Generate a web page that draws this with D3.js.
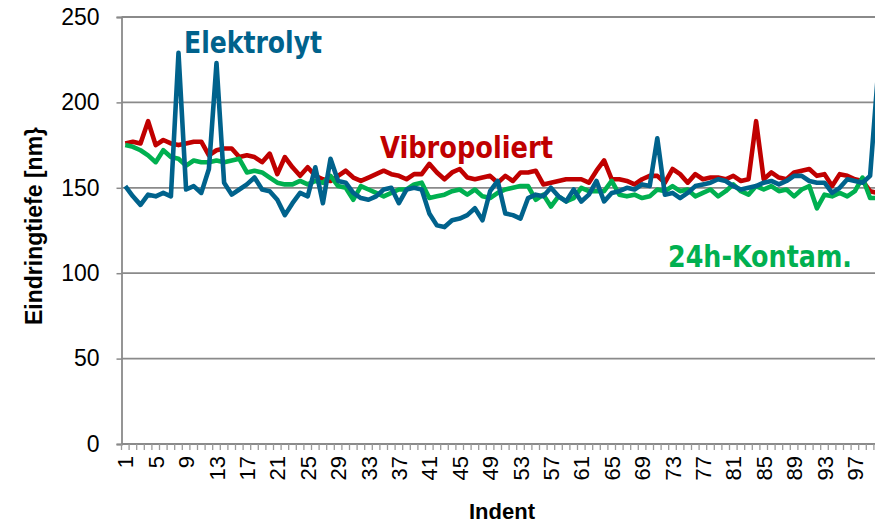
<!DOCTYPE html>
<html>
<head>
<meta charset="utf-8">
<script src="https://cdn.jsdelivr.net/npm/d3@7"></script>
<style>
  body { margin: 0; background: #fff; }
  svg { display: block; }
  text { font-family: "Liberation Sans", Arial, sans-serif; }
</style>
</head>
<body>
<svg id="chart" width="875" height="526"></svg>
<script>
// indents 1..100
const indents = d3.range(1, 101);

const vibropoliert = [176, 177, 176, 189, 175, 178, 176, 175, 176, 177,
  177, 169, 172, 173, 173, 168, 169, 168, 165, 170,
  158, 168, 162, 157, 162, 157, 155, 154, 157, 160,
  156, 154, 156, 158, 160, 158, 157, 155, 158, 158,
  164, 159, 155, 159, 161, 156, 155, 156, 157, 153,
  157, 154, 159, 159, 160, 152, 153, 154, 155, 155,
  155, 153, 160, 166, 155, 155, 154, 152, 155, 157,
  157, 153, 161, 158, 153, 158, 155, 156, 156, 155,
  157, 154, 155, 189, 155, 159, 156, 155, 159, 160,
  161, 157, 158, 151, 158, 157, 155, 154, 148, 147];

const elektrolyt = [151, 145, 140, 146, 145, 147, 145, 229, 149, 151,
  147, 161, 223, 153, 146, 149, 152, 156, 149, 148,
  143, 134, 141, 147, 145, 162, 141, 167, 154, 153,
  147, 144, 143, 145, 149, 150, 141, 149, 150, 149,
  135, 128, 127, 131, 132, 134, 138, 131, 148, 154,
  135, 134, 132, 144, 146, 145, 150, 145, 142, 149,
  142, 146, 154, 142, 147, 148, 150, 149, 152, 151,
  179, 146, 147, 144, 147, 151, 152, 153, 155, 154,
  151, 149, 150, 151, 153, 154, 152, 154, 157, 157,
  154, 153, 153, 147, 150, 155, 154, 153, 157, 215];

const kontam = [175, 174, 172, 169, 165, 172, 168, 167, 163, 166,
  165, 165, 166, 165, 166, 167, 159, 160, 159, 156,
  153, 152, 152, 154, 152, 154, 153, 157, 151, 150,
  143, 151, 149, 147, 145, 147, 149, 149, 152, 153,
  144, 145, 146, 148, 149, 146, 149, 145, 144, 147,
  149, 150, 151, 151, 143, 146, 139, 145, 142, 144,
  150, 148, 148, 148, 154, 146, 145, 146, 144, 145,
  149, 148, 151, 148, 149, 145, 147, 149, 145, 148,
  152, 148, 146, 151, 149, 151, 148, 149, 145, 149,
  151, 138, 146, 145, 147, 145, 148, 156, 144, 144];

const yTicks = [0, 50, 100, 150, 200, 250];
const xLabelEvery = 4;

const series = [
  { name: "Vibropoliert", values: vibropoliert, color: "#C00000", lx: 380, ly: 158, lw: 173 },
  { name: "24h-Kontam.", values: kontam, color: "#00B050", lx: 668, ly: 267, lw: 184 },
  { name: "Elektrolyt", values: elektrolyt, color: "#00628C", lx: 184, ly: 53, lw: 138 }
];

const svg = d3.select("#chart");
const plotLeft = 121.5, plotRight = 881.5, plotTop = 17, plotBottom = 444;

const x = d3.scaleBand().domain(indents).range([plotLeft, plotRight]);
const y = d3.scaleLinear().domain([0, 250]).range([plotBottom, plotTop]);
const cx = d => x(d) + x.bandwidth() / 2;

// gridlines
svg.append("g")
  .selectAll("line")
  .data(yTicks.filter(t => t > 0))
  .enter().append("line")
  .attr("x1", plotLeft).attr("x2", plotRight)
  .attr("y1", d => y(d)).attr("y2", d => y(d))
  .attr("stroke", "#8a8a8a")
  .attr("stroke-width", 1.8);

// y axis
const yAxis = svg.append("g")
  .attr("transform", `translate(${plotLeft},0)`)
  .call(d3.axisLeft(y).tickValues(yTicks).tickSize(5).tickPadding(17));
yAxis.select(".domain").attr("stroke", "#8a8a8a").attr("stroke-width", 1.8);
yAxis.selectAll(".tick line").attr("stroke", "#8a8a8a").attr("stroke-width", 1.5);
yAxis.selectAll(".tick text")
  .attr("font-size", 23)
  .attr("fill", "#000")
  .style("font-family", "'Liberation Sans', Arial, sans-serif");

// x axis: ticks between categories
const xAxis = svg.append("g");
xAxis.append("line")
  .attr("x1", plotLeft).attr("x2", plotRight)
  .attr("y1", plotBottom).attr("y2", plotBottom)
  .attr("stroke", "#8a8a8a")
  .attr("stroke-width", 1.8);
xAxis.selectAll("line.tk")
  .data(indents.concat([101]))
  .enter().append("line")
  .attr("class", "tk")
  .attr("x1", d => d <= 100 ? x(d) : plotRight)
  .attr("x2", d => d <= 100 ? x(d) : plotRight)
  .attr("y1", plotBottom).attr("y2", plotBottom + 6)
  .attr("stroke", "#9a9a9a")
  .attr("stroke-width", 1.3);
xAxis.selectAll("text")
  .data(indents.filter(d => (d - 1) % xLabelEvery === 0))
  .enter().append("text")
  .attr("transform", d => `translate(${cx(d) + 8},${plotBottom + 12}) rotate(-90)`)
  .attr("text-anchor", "end")
  .attr("font-size", 22)
  .attr("fill", "#000")
  .text(d => d);

// lines
const line = d3.line()
  .x((d, i) => cx(indents[i]))
  .y(d => y(d));

svg.append("g")
  .selectAll("path")
  .data(series)
  .enter().append("path")
  .attr("d", d => line(d.values))
  .attr("fill", "none")
  .attr("stroke", d => d.color)
  .attr("stroke-width", 4.6)
  .attr("stroke-linejoin", "round");

// series labels
svg.append("g")
  .selectAll("text")
  .data(series)
  .enter().append("text")
  .attr("x", d => d.lx)
  .attr("y", d => d.ly)
  .attr("fill", d => d.color)
  .attr("font-size", 31)
  .attr("font-weight", "bold")
  .attr("textLength", d => d.lw)
  .attr("lengthAdjust", "spacingAndGlyphs")
  .style("font-family", "'DejaVu Sans Condensed', 'DejaVu Sans', sans-serif")
  .style("font-stretch", "condensed")
  .text(d => d.name);

// axis titles
svg.append("text")
  .attr("transform", "translate(42,226) rotate(-90)")
  .attr("text-anchor", "middle")
  .attr("font-size", 23)
  .attr("font-weight", "bold")
  .text("Eindringtiefe [nm}");

svg.append("text")
  .attr("x", 502)
  .attr("y", 519)
  .attr("text-anchor", "middle")
  .attr("font-size", 22)
  .attr("font-weight", "bold")
  .text("Indent");
</script>
</body>
</html>
